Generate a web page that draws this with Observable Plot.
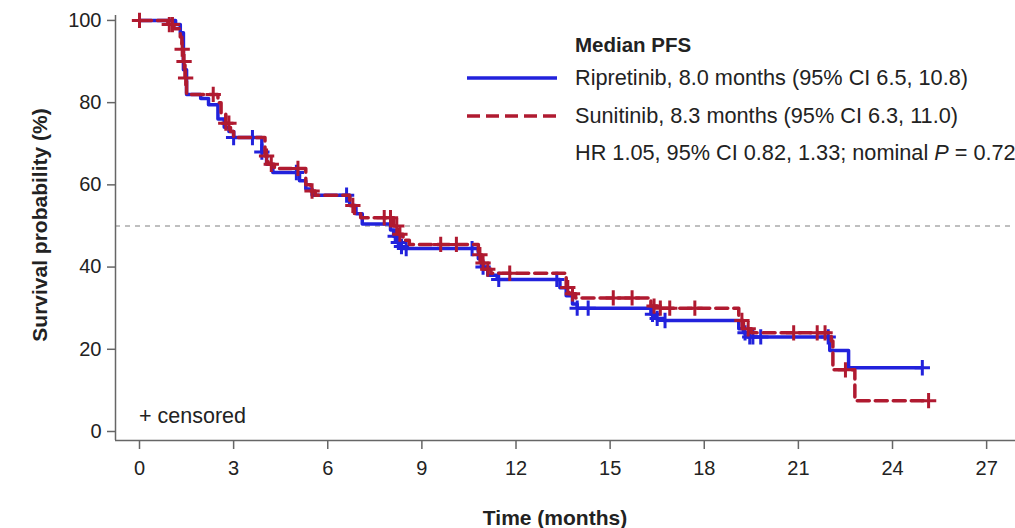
<!DOCTYPE html>
<html>
<head>
<meta charset="utf-8">
<script src="https://cdn.jsdelivr.net/npm/d3@7"></script>
<script src="https://cdn.jsdelivr.net/npm/@observablehq/plot@0.6"></script>
<style>
  html, body { margin: 0; padding: 0; background: #fff; }
  #wrap { position: relative; width: 1015px; height: 528px; font-family: "Liberation Sans", Arial, sans-serif; color: #222; }
  .lab { position: absolute; white-space: nowrap; font-size: 21px; line-height: 24px; }
  .leg { font-size: 21.7px; }
  .bold { font-weight: bold; }
</style>
</head>
<body>
<div id="wrap"></div>
<script>
// ---- Data ----
const xTicks = [0, 3, 6, 9, 12, 15, 18, 21, 24, 27];
const yTicks = [0, 20, 40, 60, 80, 100];

// Ripretinib (blue) KM steps: time (months), survival (%) after that time
const ripTime = [0, 1.15, 1.3, 1.4, 1.5, 1.95, 2.2, 2.5, 2.7, 2.85, 3.0, 3.9, 4.05, 4.25, 5.1, 5.3, 5.5, 6.7, 6.9, 7.1, 8.0, 8.1, 8.2, 8.3, 8.4, 10.8, 10.9, 11.1, 11.4, 13.4, 13.6, 13.8, 13.95, 16.3, 16.45, 16.7, 19.1, 19.25, 19.4, 22.0, 22.6, 24.95];
const ripSurv = [100, 99, 97, 88, 82, 81, 79.5, 76, 74, 73, 71.5, 68, 65, 63, 61, 59, 57.5, 55, 53, 50.5, 49, 47.5, 46, 45, 44.5, 42, 40, 38, 37, 35, 33, 31, 30, 28.5, 27.5, 27, 25, 24, 23, 19.7, 15.5, 15.5];
const ripCensor = [3.0, 3.6, 3.9, 5.0, 6.6, 8.15, 8.25, 8.35, 8.5, 10.6, 10.95, 11.45, 13.3, 13.95, 14.3, 16.35, 16.5, 16.75, 19.3, 19.45, 19.55, 19.8, 21.95, 24.95];

// Sunitinib (red) KM steps
const sunTime = [0, 0.9, 1.1, 1.3, 1.35, 1.4, 1.45, 1.5, 2.5, 2.6, 2.75, 2.9, 3.0, 4.0, 4.1, 4.3, 5.3, 5.45, 5.6, 6.7, 6.85, 7.05, 8.1, 8.25, 8.4, 8.6, 10.8, 10.9, 11.0, 11.2, 13.6, 13.7, 13.9, 16.3, 16.5, 19.1, 19.25, 19.5, 22.05, 22.1, 22.8, 25.15];
const sunSurv = [100, 99, 98, 96, 93, 90, 86, 82, 80, 77.5, 75, 73, 71.5, 67, 65, 64, 60, 58.5, 57.5, 55, 53, 52, 50, 48, 46.5, 45.5, 43, 41, 39.5, 38.5, 35, 33.5, 32.5, 30.5, 30, 27, 25, 24, 22, 15, 7.5, 7.5];
const sunCensor = [0, 0.95, 1.05, 1.36, 1.42, 1.47, 2.35, 2.75, 2.85, 4.05, 4.2, 5.05, 5.5, 6.8, 7.8, 8.0, 8.2, 8.3, 9.6, 10.1, 10.85, 10.95, 11.1, 11.8, 13.65, 13.8, 15.1, 15.7, 16.4, 16.6, 16.9, 17.7, 19.2, 19.4, 20.85, 21.6, 21.85, 22.5, 25.15];

const medianLine = 50;

// ---- Build tables ----
const steps = (ts, ss) => ts.map((t, i) => ({t, s: ss[i]}));
const survAt = (ts, ss, t) => { let v = ss[0]; for (let i = 0; i < ts.length; i++) if (ts[i] <= t) v = ss[i]; return v; };
const censors = (cs, ts, ss) => cs.map(t => ({t, s: survAt(ts, ss, t)}));

const ripSteps = steps(ripTime, ripSurv);
const sunSteps = steps(sunTime, sunSurv);
const ripCens = censors(ripCensor, ripTime, ripSurv);
const sunCens = censors(sunCensor, sunTime, sunSurv);

const blue = "#2222dc";
const red = "#b01a30";
const axisColor = "#666";

// axis frame extends a little beyond the data domain (offset axes)
const xDom = [-0.765, 27.92];
const yDom = [-2.19, 101.2];

const chart = Plot.plot({
  width: 1015,
  height: 528,
  marginLeft: 115,
  marginRight: 0,
  marginTop: 15,
  marginBottom: 88,
  x: {domain: xDom},
  y: {domain: yDom},
  style: {fontFamily: '"Liberation Sans", Arial, sans-serif', fontSize: "20px", color: "#222", background: "transparent"},
  marks: [
    Plot.ruleY([medianLine], {stroke: "#aaa", strokeWidth: 1.5, strokeDasharray: "5,5"}),
    Plot.ruleX([xDom[0]], {stroke: axisColor, strokeWidth: 1.5}),
    Plot.ruleY([yDom[0]], {stroke: axisColor, strokeWidth: 1.5}),
    Plot.axisX({ticks: xTicks, tickSize: 9, tickPadding: 11, label: null, stroke: axisColor, strokeWidth: 1.5}),
    Plot.axisY({ticks: yTicks, tickSize: 8, tickPadding: 6, label: null, stroke: axisColor, strokeWidth: 1.5}),
    Plot.line(ripSteps, {x: "t", y: "s", curve: "step-after", stroke: blue, strokeWidth: 3.5}),
    Plot.dot(ripCens, {x: "t", y: "s", symbol: "plus", r: 5, stroke: blue, strokeWidth: 3}),
    Plot.line(sunSteps, {x: "t", y: "s", curve: "step-after", stroke: red, strokeWidth: 3.5, strokeDasharray: "12,6"}),
    Plot.dot(sunCens, {x: "t", y: "s", symbol: "plus", r: 5, stroke: red, strokeWidth: 3})
  ]
});

const wrap = document.getElementById("wrap");
wrap.appendChild(chart);
chart.style.position = "absolute";
chart.style.left = "0";
chart.style.top = "0";

function addLabel(html, left, top, cls, extraStyle) {
  const d = document.createElement("div");
  d.className = "lab " + (cls || "");
  d.innerHTML = html;
  d.style.left = left + "px";
  d.style.top = top + "px";
  if (extraStyle) Object.assign(d.style, extraStyle);
  wrap.appendChild(d);
  return d;
}

// Axis titles
addLabel("Time (months)", 555, 506, "bold", {transform: "translateX(-50%)"});
addLabel("Survival probability (%)", 40, 225, "bold", {transform: "translate(-50%, -50%) rotate(-90deg)"});

// Censored note
addLabel("+ censored", 139, 404, "", {fontSize: "21.5px"});

// Legend
addLabel("Median PFS", 575, 33, "bold", {fontSize: "20.5px"});
addLabel("Ripretinib, 8.0 months (95% CI 6.5, 10.8)", 575, 66, "leg");
addLabel("Sunitinib, 8.3 months (95% CI 6.3, 11.0)", 575, 104, "leg");
addLabel("HR 1.05, 95% CI 0.82, 1.33; nominal <i>P</i> = 0.72", 575, 141, "leg");

const svgNS = "http://www.w3.org/2000/svg";
function legendLine(y, color, dash) {
  const s = document.createElementNS(svgNS, "svg");
  s.setAttribute("width", "95");
  s.setAttribute("height", "10");
  s.style.position = "absolute";
  s.style.left = "465px";
  s.style.top = (y - 5) + "px";
  const l = document.createElementNS(svgNS, "line");
  l.setAttribute("x1", "2"); l.setAttribute("x2", "92");
  l.setAttribute("y1", "5"); l.setAttribute("y2", "5");
  l.setAttribute("stroke", color);
  l.setAttribute("stroke-width", "3.5");
  if (dash) l.setAttribute("stroke-dasharray", dash);
  s.appendChild(l);
  wrap.appendChild(s);
}
legendLine(78, blue, null);
legendLine(116, red, "13,6");
</script>
</body>
</html>
